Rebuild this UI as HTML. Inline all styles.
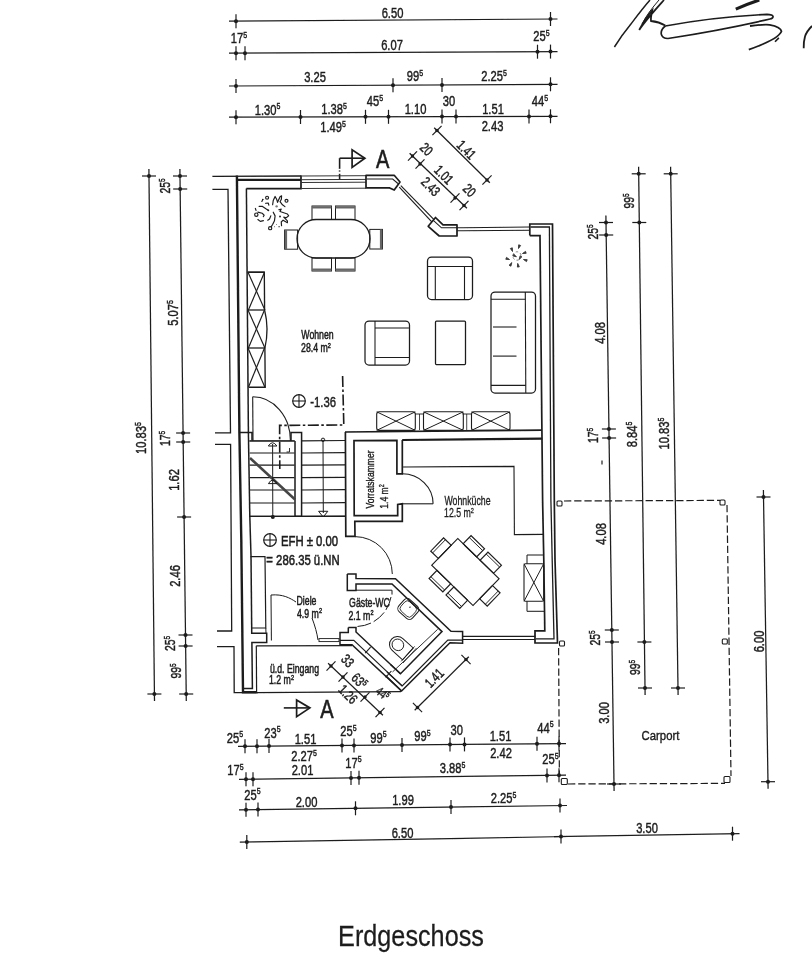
<!DOCTYPE html>
<html><head><meta charset="utf-8"><title>Erdgeschoss</title>
<style>
html,body{margin:0;padding:0;background:#fff;}
body{width:812px;height:960px;overflow:hidden;font-family:"Liberation Sans",sans-serif;}
svg{display:block;font-family:"Liberation Sans",sans-serif;}
</style></head><body>
<svg width="812" height="960" viewBox="0 0 812 960">
<rect width="812" height="960" fill="#ffffff"/>
<g filter="url(#soft)">
<line x1="229.0" y1="21.2" x2="557.5" y2="19.0" stroke="#1c1c1c" stroke-width="1.25"/>
<line x1="236.0" y1="14.2" x2="236.0" y2="28.2" stroke="#1c1c1c" stroke-width="1.2"/>
<circle cx="236.0" cy="21.2" r="2.0" fill="#1c1c1c"/>
<line x1="550.5" y1="12.0" x2="550.5" y2="26.0" stroke="#1c1c1c" stroke-width="1.2"/>
<circle cx="550.5" cy="19.0" r="2.0" fill="#1c1c1c"/>
<text transform="translate(392.5 18.0) rotate(0) scale(0.745 1)" text-anchor="middle" font-size="15" font-weight="normal" fill="#1c1c1c" stroke="#1c1c1c" stroke-width="0.45">6.50</text>
<line x1="229.0" y1="53.2" x2="557.5" y2="51.6" stroke="#1c1c1c" stroke-width="1.25"/>
<line x1="236.0" y1="46.2" x2="236.0" y2="60.2" stroke="#1c1c1c" stroke-width="1.2"/>
<circle cx="236.0" cy="53.2" r="2.0" fill="#1c1c1c"/>
<line x1="245.0" y1="46.2" x2="245.0" y2="60.2" stroke="#1c1c1c" stroke-width="1.2"/>
<circle cx="245.0" cy="53.2" r="2.0" fill="#1c1c1c"/>
<line x1="537.5" y1="44.7" x2="537.5" y2="58.7" stroke="#1c1c1c" stroke-width="1.2"/>
<circle cx="537.5" cy="51.7" r="2.0" fill="#1c1c1c"/>
<line x1="550.5" y1="44.6" x2="550.5" y2="58.6" stroke="#1c1c1c" stroke-width="1.2"/>
<circle cx="550.5" cy="51.6" r="2.0" fill="#1c1c1c"/>
<text transform="translate(239.0 43.0) rotate(0) scale(0.745 1)" text-anchor="middle" font-size="15" font-weight="normal" fill="#1c1c1c" stroke="#1c1c1c" stroke-width="0.45">17<tspan font-size="9.4" dy="-5.1">5</tspan></text>
<text transform="translate(392.0 50.0) rotate(0) scale(0.745 1)" text-anchor="middle" font-size="15" font-weight="normal" fill="#1c1c1c" stroke="#1c1c1c" stroke-width="0.45">6.07</text>
<text transform="translate(541.5 41.0) rotate(0) scale(0.745 1)" text-anchor="middle" font-size="15" font-weight="normal" fill="#1c1c1c" stroke="#1c1c1c" stroke-width="0.45">25<tspan font-size="9.4" dy="-5.1">5</tspan></text>
<line x1="229.0" y1="86.0" x2="557.5" y2="84.3" stroke="#1c1c1c" stroke-width="1.25"/>
<line x1="236.0" y1="79.0" x2="236.0" y2="93.0" stroke="#1c1c1c" stroke-width="1.2"/>
<circle cx="236.0" cy="86.0" r="2.0" fill="#1c1c1c"/>
<line x1="393.0" y1="78.2" x2="393.0" y2="92.2" stroke="#1c1c1c" stroke-width="1.2"/>
<circle cx="393.0" cy="85.2" r="2.0" fill="#1c1c1c"/>
<line x1="442.0" y1="77.9" x2="442.0" y2="91.9" stroke="#1c1c1c" stroke-width="1.2"/>
<circle cx="442.0" cy="84.9" r="2.0" fill="#1c1c1c"/>
<line x1="550.5" y1="77.3" x2="550.5" y2="91.3" stroke="#1c1c1c" stroke-width="1.2"/>
<circle cx="550.5" cy="84.3" r="2.0" fill="#1c1c1c"/>
<text transform="translate(315.0 82.0) rotate(0) scale(0.745 1)" text-anchor="middle" font-size="15" font-weight="normal" fill="#1c1c1c" stroke="#1c1c1c" stroke-width="0.45">3.25</text>
<text transform="translate(415.0 81.0) rotate(0) scale(0.745 1)" text-anchor="middle" font-size="15" font-weight="normal" fill="#1c1c1c" stroke="#1c1c1c" stroke-width="0.45">99<tspan font-size="9.4" dy="-5.1">5</tspan></text>
<text transform="translate(494.0 81.0) rotate(0) scale(0.745 1)" text-anchor="middle" font-size="15" font-weight="normal" fill="#1c1c1c" stroke="#1c1c1c" stroke-width="0.45">2.25<tspan font-size="9.4" dy="-5.1">5</tspan></text>
<line x1="229.0" y1="117.2" x2="557.5" y2="116.3" stroke="#1c1c1c" stroke-width="1.25"/>
<line x1="236.0" y1="110.2" x2="236.0" y2="124.2" stroke="#1c1c1c" stroke-width="1.2"/>
<circle cx="236.0" cy="117.2" r="2.0" fill="#1c1c1c"/>
<line x1="300.5" y1="110.0" x2="300.5" y2="124.0" stroke="#1c1c1c" stroke-width="1.2"/>
<circle cx="300.5" cy="117.0" r="2.0" fill="#1c1c1c"/>
<line x1="365.5" y1="109.8" x2="365.5" y2="123.8" stroke="#1c1c1c" stroke-width="1.2"/>
<circle cx="365.5" cy="116.8" r="2.0" fill="#1c1c1c"/>
<line x1="388.5" y1="109.8" x2="388.5" y2="123.8" stroke="#1c1c1c" stroke-width="1.2"/>
<circle cx="388.5" cy="116.8" r="2.0" fill="#1c1c1c"/>
<line x1="442.0" y1="109.6" x2="442.0" y2="123.6" stroke="#1c1c1c" stroke-width="1.2"/>
<circle cx="442.0" cy="116.6" r="2.0" fill="#1c1c1c"/>
<line x1="456.0" y1="109.6" x2="456.0" y2="123.6" stroke="#1c1c1c" stroke-width="1.2"/>
<circle cx="456.0" cy="116.6" r="2.0" fill="#1c1c1c"/>
<line x1="529.0" y1="109.4" x2="529.0" y2="123.4" stroke="#1c1c1c" stroke-width="1.2"/>
<circle cx="529.0" cy="116.4" r="2.0" fill="#1c1c1c"/>
<line x1="550.5" y1="109.3" x2="550.5" y2="123.3" stroke="#1c1c1c" stroke-width="1.2"/>
<circle cx="550.5" cy="116.3" r="2.0" fill="#1c1c1c"/>
<text transform="translate(267.5 114.5) rotate(0) scale(0.745 1)" text-anchor="middle" font-size="15" font-weight="normal" fill="#1c1c1c" stroke="#1c1c1c" stroke-width="0.45">1.30<tspan font-size="9.4" dy="-5.1">5</tspan></text>
<text transform="translate(334.0 114.0) rotate(0) scale(0.745 1)" text-anchor="middle" font-size="15" font-weight="normal" fill="#1c1c1c" stroke="#1c1c1c" stroke-width="0.45">1.38<tspan font-size="9.4" dy="-5.1">5</tspan></text>
<text transform="translate(375.0 106.0) rotate(0) scale(0.745 1)" text-anchor="middle" font-size="15" font-weight="normal" fill="#1c1c1c" stroke="#1c1c1c" stroke-width="0.45">45<tspan font-size="9.4" dy="-5.1">5</tspan></text>
<text transform="translate(415.5 114.0) rotate(0) scale(0.745 1)" text-anchor="middle" font-size="15" font-weight="normal" fill="#1c1c1c" stroke="#1c1c1c" stroke-width="0.45">1.10</text>
<text transform="translate(449.0 106.0) rotate(0) scale(0.745 1)" text-anchor="middle" font-size="15" font-weight="normal" fill="#1c1c1c" stroke="#1c1c1c" stroke-width="0.45">30</text>
<text transform="translate(493.0 114.0) rotate(0) scale(0.745 1)" text-anchor="middle" font-size="15" font-weight="normal" fill="#1c1c1c" stroke="#1c1c1c" stroke-width="0.45">1.51</text>
<text transform="translate(540.0 106.0) rotate(0) scale(0.745 1)" text-anchor="middle" font-size="15" font-weight="normal" fill="#1c1c1c" stroke="#1c1c1c" stroke-width="0.45">44<tspan font-size="9.4" dy="-5.1">5</tspan></text>
<text transform="translate(333.0 132.0) rotate(0) scale(0.745 1)" text-anchor="middle" font-size="15" font-weight="normal" fill="#1c1c1c" stroke="#1c1c1c" stroke-width="0.45">1.49<tspan font-size="9.4" dy="-5.1">5</tspan></text>
<text transform="translate(492.5 131.0) rotate(0) scale(0.745 1)" text-anchor="middle" font-size="15" font-weight="normal" fill="#1c1c1c" stroke="#1c1c1c" stroke-width="0.45">2.43</text>
<line x1="339.6" y1="158.2" x2="339.6" y2="168.8" stroke="#1c1c1c" stroke-width="1.6"/>
<line x1="339.6" y1="170.4" x2="339.6" y2="171.6" stroke="#1c1c1c" stroke-width="1.6"/>
<line x1="339.6" y1="173.8" x2="339.6" y2="179.6" stroke="#1c1c1c" stroke-width="1.6"/>
<line x1="339.6" y1="158.2" x2="364.5" y2="158.2" stroke="#1c1c1c" stroke-width="1.6"/>
<path d="M352.1 149.9 L352.1 167.4 L364.9 158.2 Z" fill="none" stroke="#1c1c1c" stroke-width="1.7" stroke-linejoin="miter"/>
<text transform="translate(382.6 168.1) rotate(0) scale(0.77 1)" text-anchor="middle" font-size="26" font-weight="normal" fill="#1c1c1c" stroke="#1c1c1c" stroke-width="0.6">A</text>
<line x1="434.2" y1="127.7" x2="489.8" y2="182.8" stroke="#1c1c1c" stroke-width="1.25"/>
<line x1="441.6" y1="125.9" x2="432.4" y2="135.1" stroke="#1c1c1c" stroke-width="1.2"/>
<circle cx="437.0" cy="130.5" r="1.7" fill="#1c1c1c"/>
<line x1="491.6" y1="175.4" x2="482.4" y2="184.6" stroke="#1c1c1c" stroke-width="1.2"/>
<circle cx="487.0" cy="180.0" r="1.7" fill="#1c1c1c"/>
<line x1="409.6" y1="153.2" x2="466.9" y2="208.3" stroke="#1c1c1c" stroke-width="1.25"/>
<line x1="417.0" y1="151.3" x2="408.0" y2="160.7" stroke="#1c1c1c" stroke-width="1.2"/>
<circle cx="412.5" cy="156.0" r="1.7" fill="#1c1c1c"/>
<line x1="424.5" y1="159.3" x2="415.5" y2="168.7" stroke="#1c1c1c" stroke-width="1.2"/>
<circle cx="420.0" cy="164.0" r="1.7" fill="#1c1c1c"/>
<line x1="459.5" y1="193.3" x2="450.5" y2="202.7" stroke="#1c1c1c" stroke-width="1.2"/>
<circle cx="455.0" cy="198.0" r="1.7" fill="#1c1c1c"/>
<line x1="468.5" y1="200.8" x2="459.5" y2="210.2" stroke="#1c1c1c" stroke-width="1.2"/>
<circle cx="464.0" cy="205.5" r="1.7" fill="#1c1c1c"/>
<text transform="translate(463.0 153.2) rotate(45) scale(0.745 1)" text-anchor="middle" font-size="14" font-weight="normal" fill="#1c1c1c" stroke="#1c1c1c" stroke-width="0.45">1.41</text>
<text transform="translate(423.0 152.5) rotate(45) scale(0.745 1)" text-anchor="middle" font-size="14" font-weight="normal" fill="#1c1c1c" stroke="#1c1c1c" stroke-width="0.45">20</text>
<text transform="translate(440.5 178.2) rotate(45) scale(0.745 1)" text-anchor="middle" font-size="14" font-weight="normal" fill="#1c1c1c" stroke="#1c1c1c" stroke-width="0.45">1.01</text>
<text transform="translate(427.3 190.0) rotate(45) scale(0.745 1)" text-anchor="middle" font-size="14" font-weight="normal" fill="#1c1c1c" stroke="#1c1c1c" stroke-width="0.45">2.43</text>
<text transform="translate(466.0 193.7) rotate(45) scale(0.745 1)" text-anchor="middle" font-size="14" font-weight="normal" fill="#1c1c1c" stroke="#1c1c1c" stroke-width="0.45">20</text>
<line x1="148.9" y1="169.0" x2="154.5" y2="701.0" stroke="#1c1c1c" stroke-width="1.25"/>
<line x1="142.0" y1="176.0" x2="156.0" y2="176.0" stroke="#1c1c1c" stroke-width="1.2"/>
<circle cx="149.0" cy="176.0" r="2.0" fill="#1c1c1c"/>
<line x1="147.4" y1="694.0" x2="161.4" y2="694.0" stroke="#1c1c1c" stroke-width="1.2"/>
<circle cx="154.4" cy="694.0" r="2.0" fill="#1c1c1c"/>
<line x1="179.9" y1="169.0" x2="186.3" y2="701.0" stroke="#1c1c1c" stroke-width="1.25"/>
<line x1="173.0" y1="176.0" x2="187.0" y2="176.0" stroke="#1c1c1c" stroke-width="1.2"/>
<circle cx="180.0" cy="176.0" r="2.0" fill="#1c1c1c"/>
<line x1="173.2" y1="189.0" x2="187.2" y2="189.0" stroke="#1c1c1c" stroke-width="1.2"/>
<circle cx="180.2" cy="189.0" r="2.0" fill="#1c1c1c"/>
<line x1="176.1" y1="433.0" x2="190.1" y2="433.0" stroke="#1c1c1c" stroke-width="1.2"/>
<circle cx="183.1" cy="433.0" r="2.0" fill="#1c1c1c"/>
<line x1="176.2" y1="442.0" x2="190.2" y2="442.0" stroke="#1c1c1c" stroke-width="1.2"/>
<circle cx="183.2" cy="442.0" r="2.0" fill="#1c1c1c"/>
<line x1="177.1" y1="517.0" x2="191.1" y2="517.0" stroke="#1c1c1c" stroke-width="1.2"/>
<circle cx="184.1" cy="517.0" r="2.0" fill="#1c1c1c"/>
<line x1="178.5" y1="635.0" x2="192.5" y2="635.0" stroke="#1c1c1c" stroke-width="1.2"/>
<circle cx="185.5" cy="635.0" r="2.0" fill="#1c1c1c"/>
<line x1="178.6" y1="646.0" x2="192.6" y2="646.0" stroke="#1c1c1c" stroke-width="1.2"/>
<circle cx="185.6" cy="646.0" r="2.0" fill="#1c1c1c"/>
<line x1="179.2" y1="694.0" x2="193.2" y2="694.0" stroke="#1c1c1c" stroke-width="1.2"/>
<circle cx="186.2" cy="694.0" r="2.0" fill="#1c1c1c"/>
<text transform="translate(170.2 186.0) rotate(-90) scale(0.745 1)" text-anchor="middle" font-size="14" font-weight="normal" fill="#1c1c1c" stroke="#1c1c1c" stroke-width="0.45">25<tspan font-size="8.8" dy="-4.8">5</tspan></text>
<text transform="translate(177.7 313.0) rotate(-90) scale(0.745 1)" text-anchor="middle" font-size="15" font-weight="normal" fill="#1c1c1c" stroke="#1c1c1c" stroke-width="0.45">5.07<tspan font-size="9.4" dy="-5.1">5</tspan></text>
<text transform="translate(146.2 438.0) rotate(-90) scale(0.745 1)" text-anchor="middle" font-size="15" font-weight="normal" fill="#1c1c1c" stroke="#1c1c1c" stroke-width="0.45">10.83<tspan font-size="9.4" dy="-5.1">5</tspan></text>
<text transform="translate(170.2 438.5) rotate(-90) scale(0.745 1)" text-anchor="middle" font-size="14" font-weight="normal" fill="#1c1c1c" stroke="#1c1c1c" stroke-width="0.45">17<tspan font-size="8.8" dy="-4.8">5</tspan></text>
<text transform="translate(179.2 480.0) rotate(-90) scale(0.745 1)" text-anchor="middle" font-size="15" font-weight="normal" fill="#1c1c1c" stroke="#1c1c1c" stroke-width="0.45">1.62</text>
<text transform="translate(179.7 576.0) rotate(-90) scale(0.745 1)" text-anchor="middle" font-size="15" font-weight="normal" fill="#1c1c1c" stroke="#1c1c1c" stroke-width="0.45">2.46</text>
<text transform="translate(174.7 643.5) rotate(-90) scale(0.745 1)" text-anchor="middle" font-size="14" font-weight="normal" fill="#1c1c1c" stroke="#1c1c1c" stroke-width="0.45">25<tspan font-size="8.8" dy="-4.8">5</tspan></text>
<text transform="translate(180.7 671.0) rotate(-90) scale(0.745 1)" text-anchor="middle" font-size="14" font-weight="normal" fill="#1c1c1c" stroke="#1c1c1c" stroke-width="0.45">99<tspan font-size="8.8" dy="-4.8">5</tspan></text>
<line x1="605.9" y1="215.5" x2="614.1" y2="791.0" stroke="#1c1c1c" stroke-width="1.25"/>
<line x1="599.0" y1="222.5" x2="613.0" y2="222.5" stroke="#1c1c1c" stroke-width="1.2"/>
<circle cx="606.0" cy="222.5" r="2.0" fill="#1c1c1c"/>
<line x1="599.2" y1="235.0" x2="613.2" y2="235.0" stroke="#1c1c1c" stroke-width="1.2"/>
<circle cx="606.2" cy="235.0" r="2.0" fill="#1c1c1c"/>
<line x1="601.9" y1="429.0" x2="615.9" y2="429.0" stroke="#1c1c1c" stroke-width="1.2"/>
<circle cx="608.9" cy="429.0" r="2.0" fill="#1c1c1c"/>
<line x1="602.1" y1="438.0" x2="616.1" y2="438.0" stroke="#1c1c1c" stroke-width="1.2"/>
<circle cx="609.1" cy="438.0" r="2.0" fill="#1c1c1c"/>
<line x1="604.8" y1="630.0" x2="618.8" y2="630.0" stroke="#1c1c1c" stroke-width="1.2"/>
<circle cx="611.8" cy="630.0" r="2.0" fill="#1c1c1c"/>
<line x1="605.0" y1="642.0" x2="619.0" y2="642.0" stroke="#1c1c1c" stroke-width="1.2"/>
<circle cx="612.0" cy="642.0" r="2.0" fill="#1c1c1c"/>
<line x1="607.0" y1="784.0" x2="621.0" y2="784.0" stroke="#1c1c1c" stroke-width="1.2"/>
<circle cx="614.0" cy="784.0" r="2.0" fill="#1c1c1c"/>
<line x1="638.6" y1="166.8" x2="645.1" y2="695.0" stroke="#1c1c1c" stroke-width="1.25"/>
<line x1="631.7" y1="173.8" x2="645.7" y2="173.8" stroke="#1c1c1c" stroke-width="1.2"/>
<circle cx="638.7" cy="173.8" r="2.0" fill="#1c1c1c"/>
<line x1="632.3" y1="222.5" x2="646.3" y2="222.5" stroke="#1c1c1c" stroke-width="1.2"/>
<circle cx="639.3" cy="222.5" r="2.0" fill="#1c1c1c"/>
<line x1="637.4" y1="642.0" x2="651.4" y2="642.0" stroke="#1c1c1c" stroke-width="1.2"/>
<circle cx="644.4" cy="642.0" r="2.0" fill="#1c1c1c"/>
<line x1="638.0" y1="688.0" x2="652.0" y2="688.0" stroke="#1c1c1c" stroke-width="1.2"/>
<circle cx="645.0" cy="688.0" r="2.0" fill="#1c1c1c"/>
<line x1="670.6" y1="166.8" x2="678.1" y2="695.0" stroke="#1c1c1c" stroke-width="1.25"/>
<line x1="663.7" y1="173.8" x2="677.7" y2="173.8" stroke="#1c1c1c" stroke-width="1.2"/>
<circle cx="670.7" cy="173.8" r="2.0" fill="#1c1c1c"/>
<line x1="671.0" y1="688.0" x2="685.0" y2="688.0" stroke="#1c1c1c" stroke-width="1.2"/>
<circle cx="678.0" cy="688.0" r="2.0" fill="#1c1c1c"/>
<text transform="translate(633.7 201.0) rotate(-90) scale(0.745 1)" text-anchor="middle" font-size="14" font-weight="normal" fill="#1c1c1c" stroke="#1c1c1c" stroke-width="0.45">99<tspan font-size="8.8" dy="-4.8">5</tspan></text>
<text transform="translate(597.7 232.0) rotate(-90) scale(0.745 1)" text-anchor="middle" font-size="14" font-weight="normal" fill="#1c1c1c" stroke="#1c1c1c" stroke-width="0.45">25<tspan font-size="8.8" dy="-4.8">5</tspan></text>
<text transform="translate(605.2 333.0) rotate(-90) scale(0.745 1)" text-anchor="middle" font-size="15" font-weight="normal" fill="#1c1c1c" stroke="#1c1c1c" stroke-width="0.45">4.08</text>
<text transform="translate(597.7 435.5) rotate(-90) scale(0.745 1)" text-anchor="middle" font-size="14" font-weight="normal" fill="#1c1c1c" stroke="#1c1c1c" stroke-width="0.45">17<tspan font-size="8.8" dy="-4.8">5</tspan></text>
<text transform="translate(637.2 434.5) rotate(-90) scale(0.745 1)" text-anchor="middle" font-size="15" font-weight="normal" fill="#1c1c1c" stroke="#1c1c1c" stroke-width="0.45">8.84<tspan font-size="9.4" dy="-5.1">5</tspan></text>
<text transform="translate(669.2 433.5) rotate(-90) scale(0.745 1)" text-anchor="middle" font-size="15" font-weight="normal" fill="#1c1c1c" stroke="#1c1c1c" stroke-width="0.45">10.83<tspan font-size="9.4" dy="-5.1">5</tspan></text>
<line x1="602.0" y1="460.5" x2="602.0" y2="464.5" stroke="#1c1c1c" stroke-width="1.2"/>
<text transform="translate(606.2 534.0) rotate(-90) scale(0.745 1)" text-anchor="middle" font-size="15" font-weight="normal" fill="#1c1c1c" stroke="#1c1c1c" stroke-width="0.45">4.08</text>
<text transform="translate(599.7 638.0) rotate(-90) scale(0.745 1)" text-anchor="middle" font-size="14" font-weight="normal" fill="#1c1c1c" stroke="#1c1c1c" stroke-width="0.45">25<tspan font-size="8.8" dy="-4.8">5</tspan></text>
<text transform="translate(639.7 667.5) rotate(-90) scale(0.745 1)" text-anchor="middle" font-size="14" font-weight="normal" fill="#1c1c1c" stroke="#1c1c1c" stroke-width="0.45">99<tspan font-size="8.8" dy="-4.8">5</tspan></text>
<text transform="translate(608.7 713.0) rotate(-90) scale(0.745 1)" text-anchor="middle" font-size="15" font-weight="normal" fill="#1c1c1c" stroke="#1c1c1c" stroke-width="0.45">3.00</text>
<line x1="763.4" y1="490.0" x2="768.1" y2="788.7" stroke="#1c1c1c" stroke-width="1.25"/>
<line x1="756.5" y1="497.0" x2="770.5" y2="497.0" stroke="#1c1c1c" stroke-width="1.2"/>
<circle cx="763.5" cy="497.0" r="2.0" fill="#1c1c1c"/>
<line x1="761.0" y1="781.7" x2="775.0" y2="781.7" stroke="#1c1c1c" stroke-width="1.2"/>
<circle cx="768.0" cy="781.7" r="2.0" fill="#1c1c1c"/>
<text transform="translate(763.7 641.5) rotate(-90) scale(0.745 1)" text-anchor="middle" font-size="15" font-weight="normal" fill="#1c1c1c" stroke="#1c1c1c" stroke-width="0.45">6.00</text>
<text transform="translate(660.5 740.0) rotate(0) scale(0.84 1)" text-anchor="middle" font-size="13.5" font-weight="normal" fill="#1c1c1c" stroke="#1c1c1c" stroke-width="0.4">Carport</text>
<line x1="238.0" y1="746.4" x2="566.0" y2="743.5" stroke="#1c1c1c" stroke-width="1.25"/>
<line x1="245.0" y1="739.3" x2="245.0" y2="753.3" stroke="#1c1c1c" stroke-width="1.2"/>
<circle cx="245.0" cy="746.3" r="2.0" fill="#1c1c1c"/>
<line x1="257.0" y1="739.2" x2="257.0" y2="753.2" stroke="#1c1c1c" stroke-width="1.2"/>
<circle cx="257.0" cy="746.2" r="2.0" fill="#1c1c1c"/>
<line x1="269.0" y1="739.1" x2="269.0" y2="753.1" stroke="#1c1c1c" stroke-width="1.2"/>
<circle cx="269.0" cy="746.1" r="2.0" fill="#1c1c1c"/>
<line x1="342.0" y1="738.5" x2="342.0" y2="752.5" stroke="#1c1c1c" stroke-width="1.2"/>
<circle cx="342.0" cy="745.5" r="2.0" fill="#1c1c1c"/>
<line x1="354.0" y1="738.4" x2="354.0" y2="752.4" stroke="#1c1c1c" stroke-width="1.2"/>
<circle cx="354.0" cy="745.4" r="2.0" fill="#1c1c1c"/>
<line x1="402.0" y1="738.0" x2="402.0" y2="752.0" stroke="#1c1c1c" stroke-width="1.2"/>
<circle cx="402.0" cy="745.0" r="2.0" fill="#1c1c1c"/>
<line x1="450.0" y1="737.5" x2="450.0" y2="751.5" stroke="#1c1c1c" stroke-width="1.2"/>
<circle cx="450.0" cy="744.5" r="2.0" fill="#1c1c1c"/>
<line x1="464.5" y1="737.4" x2="464.5" y2="751.4" stroke="#1c1c1c" stroke-width="1.2"/>
<circle cx="464.5" cy="744.4" r="2.0" fill="#1c1c1c"/>
<line x1="537.0" y1="736.8" x2="537.0" y2="750.8" stroke="#1c1c1c" stroke-width="1.2"/>
<circle cx="537.0" cy="743.8" r="2.0" fill="#1c1c1c"/>
<line x1="559.0" y1="736.6" x2="559.0" y2="750.6" stroke="#1c1c1c" stroke-width="1.2"/>
<circle cx="559.0" cy="743.6" r="2.0" fill="#1c1c1c"/>
<text transform="translate(235.0 742.5) rotate(0) scale(0.745 1)" text-anchor="middle" font-size="15" font-weight="normal" fill="#1c1c1c" stroke="#1c1c1c" stroke-width="0.45">25<tspan font-size="9.4" dy="-5.1">5</tspan></text>
<text transform="translate(272.5 737.5) rotate(0) scale(0.745 1)" text-anchor="middle" font-size="15" font-weight="normal" fill="#1c1c1c" stroke="#1c1c1c" stroke-width="0.45">23<tspan font-size="9.4" dy="-5.1">5</tspan></text>
<text transform="translate(305.5 744.0) rotate(0) scale(0.745 1)" text-anchor="middle" font-size="15" font-weight="normal" fill="#1c1c1c" stroke="#1c1c1c" stroke-width="0.45">1.51</text>
<text transform="translate(348.5 736.0) rotate(0) scale(0.745 1)" text-anchor="middle" font-size="15" font-weight="normal" fill="#1c1c1c" stroke="#1c1c1c" stroke-width="0.45">25<tspan font-size="9.4" dy="-5.1">5</tspan></text>
<text transform="translate(378.5 742.5) rotate(0) scale(0.745 1)" text-anchor="middle" font-size="15" font-weight="normal" fill="#1c1c1c" stroke="#1c1c1c" stroke-width="0.45">99<tspan font-size="9.4" dy="-5.1">5</tspan></text>
<text transform="translate(422.5 741.0) rotate(0) scale(0.745 1)" text-anchor="middle" font-size="15" font-weight="normal" fill="#1c1c1c" stroke="#1c1c1c" stroke-width="0.45">99<tspan font-size="9.4" dy="-5.1">5</tspan></text>
<text transform="translate(456.7 734.5) rotate(0) scale(0.745 1)" text-anchor="middle" font-size="15" font-weight="normal" fill="#1c1c1c" stroke="#1c1c1c" stroke-width="0.45">30</text>
<text transform="translate(500.5 741.0) rotate(0) scale(0.745 1)" text-anchor="middle" font-size="15" font-weight="normal" fill="#1c1c1c" stroke="#1c1c1c" stroke-width="0.45">1.51</text>
<text transform="translate(545.5 732.5) rotate(0) scale(0.745 1)" text-anchor="middle" font-size="15" font-weight="normal" fill="#1c1c1c" stroke="#1c1c1c" stroke-width="0.45">44<tspan font-size="9.4" dy="-5.1">5</tspan></text>
<text transform="translate(304.0 761.0) rotate(0) scale(0.745 1)" text-anchor="middle" font-size="15" font-weight="normal" fill="#1c1c1c" stroke="#1c1c1c" stroke-width="0.45">2.27<tspan font-size="9.4" dy="-5.1">5</tspan></text>
<text transform="translate(501.0 758.0) rotate(0) scale(0.745 1)" text-anchor="middle" font-size="15" font-weight="normal" fill="#1c1c1c" stroke="#1c1c1c" stroke-width="0.45">2.42</text>
<line x1="239.0" y1="779.4" x2="566.0" y2="775.1" stroke="#1c1c1c" stroke-width="1.25"/>
<line x1="246.0" y1="772.3" x2="246.0" y2="786.3" stroke="#1c1c1c" stroke-width="1.2"/>
<circle cx="246.0" cy="779.3" r="2.0" fill="#1c1c1c"/>
<line x1="253.0" y1="772.2" x2="253.0" y2="786.2" stroke="#1c1c1c" stroke-width="1.2"/>
<circle cx="253.0" cy="779.2" r="2.0" fill="#1c1c1c"/>
<line x1="351.0" y1="770.9" x2="351.0" y2="784.9" stroke="#1c1c1c" stroke-width="1.2"/>
<circle cx="351.0" cy="777.9" r="2.0" fill="#1c1c1c"/>
<line x1="359.0" y1="770.8" x2="359.0" y2="784.8" stroke="#1c1c1c" stroke-width="1.2"/>
<circle cx="359.0" cy="777.8" r="2.0" fill="#1c1c1c"/>
<line x1="547.0" y1="768.4" x2="547.0" y2="782.4" stroke="#1c1c1c" stroke-width="1.2"/>
<circle cx="547.0" cy="775.4" r="2.0" fill="#1c1c1c"/>
<line x1="559.0" y1="768.2" x2="559.0" y2="782.2" stroke="#1c1c1c" stroke-width="1.2"/>
<circle cx="559.0" cy="775.2" r="2.0" fill="#1c1c1c"/>
<text transform="translate(235.5 775.0) rotate(0) scale(0.745 1)" text-anchor="middle" font-size="15" font-weight="normal" fill="#1c1c1c" stroke="#1c1c1c" stroke-width="0.45">17<tspan font-size="9.4" dy="-5.1">5</tspan></text>
<text transform="translate(302.5 775.0) rotate(0) scale(0.745 1)" text-anchor="middle" font-size="15" font-weight="normal" fill="#1c1c1c" stroke="#1c1c1c" stroke-width="0.45">2.01</text>
<text transform="translate(353.5 767.5) rotate(0) scale(0.745 1)" text-anchor="middle" font-size="15" font-weight="normal" fill="#1c1c1c" stroke="#1c1c1c" stroke-width="0.45">17<tspan font-size="9.4" dy="-5.1">5</tspan></text>
<text transform="translate(452.5 773.0) rotate(0) scale(0.745 1)" text-anchor="middle" font-size="15" font-weight="normal" fill="#1c1c1c" stroke="#1c1c1c" stroke-width="0.45">3.88<tspan font-size="9.4" dy="-5.1">5</tspan></text>
<text transform="translate(550.5 764.0) rotate(0) scale(0.745 1)" text-anchor="middle" font-size="15" font-weight="normal" fill="#1c1c1c" stroke="#1c1c1c" stroke-width="0.45">25<tspan font-size="9.4" dy="-5.1">5</tspan></text>
<line x1="239.0" y1="809.9" x2="567.0" y2="805.5" stroke="#1c1c1c" stroke-width="1.25"/>
<line x1="246.0" y1="802.8" x2="246.0" y2="816.8" stroke="#1c1c1c" stroke-width="1.2"/>
<circle cx="246.0" cy="809.8" r="2.0" fill="#1c1c1c"/>
<line x1="258.0" y1="802.6" x2="258.0" y2="816.6" stroke="#1c1c1c" stroke-width="1.2"/>
<circle cx="258.0" cy="809.6" r="2.0" fill="#1c1c1c"/>
<line x1="355.5" y1="801.3" x2="355.5" y2="815.3" stroke="#1c1c1c" stroke-width="1.2"/>
<circle cx="355.5" cy="808.3" r="2.0" fill="#1c1c1c"/>
<line x1="451.0" y1="800.1" x2="451.0" y2="814.1" stroke="#1c1c1c" stroke-width="1.2"/>
<circle cx="451.0" cy="807.1" r="2.0" fill="#1c1c1c"/>
<line x1="560.0" y1="798.6" x2="560.0" y2="812.6" stroke="#1c1c1c" stroke-width="1.2"/>
<circle cx="560.0" cy="805.6" r="2.0" fill="#1c1c1c"/>
<text transform="translate(252.5 799.5) rotate(0) scale(0.745 1)" text-anchor="middle" font-size="15" font-weight="normal" fill="#1c1c1c" stroke="#1c1c1c" stroke-width="0.45">25<tspan font-size="9.4" dy="-5.1">5</tspan></text>
<text transform="translate(306.5 807.0) rotate(0) scale(0.745 1)" text-anchor="middle" font-size="15" font-weight="normal" fill="#1c1c1c" stroke="#1c1c1c" stroke-width="0.45">2.00</text>
<text transform="translate(403.0 805.0) rotate(0) scale(0.745 1)" text-anchor="middle" font-size="15" font-weight="normal" fill="#1c1c1c" stroke="#1c1c1c" stroke-width="0.45">1.99</text>
<text transform="translate(503.5 803.0) rotate(0) scale(0.745 1)" text-anchor="middle" font-size="15" font-weight="normal" fill="#1c1c1c" stroke="#1c1c1c" stroke-width="0.45">2.25<tspan font-size="9.4" dy="-5.1">5</tspan></text>
<line x1="239.8" y1="842.1" x2="568.0" y2="836.5" stroke="#1c1c1c" stroke-width="1.25"/>
<line x1="246.8" y1="835.0" x2="246.8" y2="849.0" stroke="#1c1c1c" stroke-width="1.2"/>
<circle cx="246.8" cy="842.0" r="2.0" fill="#1c1c1c"/>
<line x1="561.0" y1="829.6" x2="561.0" y2="843.6" stroke="#1c1c1c" stroke-width="1.2"/>
<circle cx="561.0" cy="836.6" r="2.0" fill="#1c1c1c"/>
<text transform="translate(402.5 838.0) rotate(0) scale(0.745 1)" text-anchor="middle" font-size="15" font-weight="normal" fill="#1c1c1c" stroke="#1c1c1c" stroke-width="0.45">6.50</text>
<line x1="554.0" y1="836.7" x2="739.5" y2="833.6" stroke="#1c1c1c" stroke-width="1.25"/>
<line x1="732.5" y1="826.7" x2="732.5" y2="840.7" stroke="#1c1c1c" stroke-width="1.2"/>
<circle cx="732.5" cy="833.7" r="2.0" fill="#1c1c1c"/>
<text transform="translate(647.0 833.0) rotate(0) scale(0.745 1)" text-anchor="middle" font-size="15" font-weight="normal" fill="#1c1c1c" stroke="#1c1c1c" stroke-width="0.45">3.50</text>
<line x1="283.8" y1="707.9" x2="309.4" y2="707.9" stroke="#1c1c1c" stroke-width="1.6"/>
<path d="M296.6 699.9 L296.6 716.6 L309.9 707.9 Z" fill="none" stroke="#1c1c1c" stroke-width="1.7" stroke-linejoin="miter"/>
<text transform="translate(326.9 717.6) rotate(0) scale(0.77 1)" text-anchor="middle" font-size="26" font-weight="normal" fill="#1c1c1c" stroke="#1c1c1c" stroke-width="0.6">A</text>
<line x1="328.1" y1="663.2" x2="382.9" y2="715.3" stroke="#1c1c1c" stroke-width="1.25"/>
<line x1="335.5" y1="661.3" x2="326.5" y2="670.7" stroke="#1c1c1c" stroke-width="1.2"/>
<circle cx="331.0" cy="666.0" r="1.7" fill="#1c1c1c"/>
<line x1="347.5" y1="672.3" x2="338.5" y2="681.7" stroke="#1c1c1c" stroke-width="1.2"/>
<circle cx="343.0" cy="677.0" r="1.7" fill="#1c1c1c"/>
<line x1="369.5" y1="692.3" x2="360.5" y2="701.7" stroke="#1c1c1c" stroke-width="1.2"/>
<circle cx="365.0" cy="697.0" r="1.7" fill="#1c1c1c"/>
<line x1="384.5" y1="707.8" x2="375.5" y2="717.2" stroke="#1c1c1c" stroke-width="1.2"/>
<circle cx="380.0" cy="712.5" r="1.7" fill="#1c1c1c"/>
<text transform="translate(344.3 664.2) rotate(45) scale(0.745 1)" text-anchor="middle" font-size="14" font-weight="normal" fill="#1c1c1c" stroke="#1c1c1c" stroke-width="0.45">33</text>
<text transform="translate(355.8 684.2) rotate(45) scale(0.745 1)" text-anchor="middle" font-size="14" font-weight="normal" fill="#1c1c1c" stroke="#1c1c1c" stroke-width="0.45">63<tspan font-size="8.8" dy="-4.8">5</tspan></text>
<text transform="translate(380.0 697.0) rotate(38) scale(0.745 1)" text-anchor="middle" font-size="12.5" font-weight="normal" fill="#1c1c1c" stroke="#1c1c1c" stroke-width="0.45">44<tspan font-size="7.9" dy="-4.2">5</tspan></text>
<text transform="translate(344.6 697.7) rotate(45) scale(0.745 1)" text-anchor="middle" font-size="14" font-weight="normal" fill="#1c1c1c" stroke="#1c1c1c" stroke-width="0.45">1.26</text>
<line x1="468.8" y1="656.7" x2="414.7" y2="710.3" stroke="#1c1c1c" stroke-width="1.25"/>
<line x1="470.6" y1="664.1" x2="461.4" y2="654.9" stroke="#1c1c1c" stroke-width="1.2"/>
<circle cx="466.0" cy="659.5" r="1.7" fill="#1c1c1c"/>
<line x1="422.1" y1="712.1" x2="412.9" y2="702.9" stroke="#1c1c1c" stroke-width="1.2"/>
<circle cx="417.5" cy="707.5" r="1.7" fill="#1c1c1c"/>
<text transform="translate(437.6 681.4) rotate(-45) scale(0.745 1)" text-anchor="middle" font-size="14" font-weight="normal" fill="#1c1c1c" stroke="#1c1c1c" stroke-width="0.45">1.41</text>
<text transform="translate(411.0 946.4) rotate(0) scale(0.855 1)" text-anchor="middle" font-size="29.5" font-weight="normal" fill="#1c1c1c" stroke="#1c1c1c" stroke-width="0.25">Erdgeschoss</text>
<line x1="212.4" y1="176.4" x2="301.0" y2="176.0" stroke="#1c1c1c" stroke-width="1.3"/>
<path d="M212.4 189.4 L228.0 189.4 L230.5 432.8 L215.0 432.8" fill="none" stroke="#1c1c1c" stroke-width="1.3" stroke-linejoin="miter"/>
<path d="M215.0 444.3 L230.6 444.3 L231.7 631.0 L217.0 631.0" fill="none" stroke="#1c1c1c" stroke-width="1.3" stroke-linejoin="miter"/>
<path d="M217.0 646.7 L234.0 646.7 L234.2 692.6 L258.0 692.6" fill="none" stroke="#1c1c1c" stroke-width="1.3" stroke-linejoin="miter"/>
<path d="M301.0 179.8 L236.9 179.8" fill="none" stroke="#1c1c1c" stroke-width="2.2" stroke-linejoin="miter"/>
<path d="M236.9 175.6 L239.4 433.0 L241.3 540.0 L243.0 692.3 L256.6 692.3" fill="none" stroke="#1c1c1c" stroke-width="2.4" stroke-linejoin="miter"/>
<path d="M301.0 175.6 L301.0 188.6 L246.4 188.6" fill="none" stroke="#1c1c1c" stroke-width="1.7" stroke-linejoin="miter"/>
<line x1="246.4" y1="188.6" x2="248.4" y2="433.0" stroke="#1c1c1c" stroke-width="1.5"/>
<line x1="301.0" y1="176.0" x2="366.0" y2="175.7" stroke="#333" stroke-width="1.0"/>
<line x1="301.0" y1="179.7" x2="366.0" y2="179.4" stroke="#333" stroke-width="1.0"/>
<line x1="301.0" y1="182.5" x2="366.0" y2="182.2" stroke="#333" stroke-width="1.0"/>
<line x1="301.0" y1="188.5" x2="366.0" y2="188.2" stroke="#333" stroke-width="1.0"/>
<path d="M366.0 175.3 L394.2 175.3 L400.0 182.0 L394.2 190.1 L389.7 187.9 L366.0 187.9 Z" fill="none" stroke="#1c1c1c" stroke-width="1.7" stroke-linejoin="round"/>
<path d="M366.8 179.0 L392.7 179.0 L397.9 183.5" fill="none" stroke="#1c1c1c" stroke-width="1.1" stroke-linejoin="miter"/>
<line x1="400.8" y1="185.7" x2="434.0" y2="219.7" stroke="#1c1c1c" stroke-width="1.15"/>
<line x1="399.3" y1="187.2" x2="431.8" y2="221.9" stroke="#1c1c1c" stroke-width="1.15"/>
<path d="M435.5 217.5 L443.0 224.8 L457.0 224.8 L457.0 236.0 L439.2 236.0 L428.2 226.3 Z" fill="none" stroke="#1c1c1c" stroke-width="1.7" stroke-linejoin="round"/>
<path d="M433.3 220.4 L441.5 227.8 L457.0 227.8" fill="none" stroke="#1c1c1c" stroke-width="1.1" stroke-linejoin="miter"/>
<line x1="457.0" y1="227.8" x2="530.0" y2="227.0" stroke="#1c1c1c" stroke-width="1.15"/>
<line x1="457.0" y1="230.8" x2="530.0" y2="230.2" stroke="#1c1c1c" stroke-width="1.15"/>
<path d="M529.8 235.6 L529.8 224.0 L552.5 224.0 L554.3 500.0 L555.0 560.0 L557.5 643.0 L535.0 643.0 L535.0 630.8 L544.8 630.8 L543.8 560.0 L542.6 500.0 L540.0 235.6 L529.8 235.6" fill="none" stroke="#1c1c1c" stroke-width="1.7" stroke-linejoin="miter"/>
<path d="M530.5 227.0 L549.4 227.0 L550.9 500.0 L552.2 560.0 L554.0 638.8 L536.0 638.8" fill="none" stroke="#1c1c1c" stroke-width="1.3" stroke-linejoin="miter"/>
<line x1="345.0" y1="432.0" x2="542.0" y2="430.2" stroke="#1c1c1c" stroke-width="1.7"/>
<line x1="402.2" y1="440.0" x2="542.2" y2="438.6" stroke="#1c1c1c" stroke-width="2.1"/>
<path d="M345.4 432.0 L345.8 536.3 L355.0 536.3 L354.8 521.3 L402.3 521.3 L402.3 503.8 L397.7 504.4 L397.7 515.7 L354.2 515.7 L354.0 440.6 L396.9 440.4 L396.9 473.8 L402.3 473.8 L402.3 440.0" fill="none" stroke="#1c1c1c" stroke-width="1.7" stroke-linejoin="miter"/>
<text transform="translate(373.5 479.5) rotate(-90) scale(0.74 1)" text-anchor="middle" font-size="11.6" font-weight="normal" fill="#1c1c1c" stroke="#1c1c1c" stroke-width="0.35">Vorratskammer</text>
<text transform="translate(387.5 496.5) rotate(-90) scale(0.74 1)" text-anchor="middle" font-size="11.6" font-weight="normal" fill="#1c1c1c" stroke="#1c1c1c" stroke-width="0.35">1.4 m<tspan font-size="7.3" dy="-3.9">2</tspan></text>
<line x1="402.3" y1="503.8" x2="433.1" y2="503.8" stroke="#1c1c1c" stroke-width="1.1"/>
<path d="M402.3 473.8 A30.8 30 0 0 1 433.1 503.8" fill="none" stroke="#1c1c1c" stroke-width="1.1" />
<line x1="249.6" y1="440.8" x2="294.5" y2="440.8" stroke="#1c1c1c" stroke-width="1.2"/>
<line x1="301.6" y1="440.8" x2="345.0" y2="440.5" stroke="#1c1c1c" stroke-width="1.2"/>
<line x1="249.6" y1="453.0" x2="294.5" y2="453.0" stroke="#1c1c1c" stroke-width="1.2"/>
<line x1="301.6" y1="453.0" x2="345.0" y2="452.7" stroke="#1c1c1c" stroke-width="1.2"/>
<line x1="249.6" y1="465.2" x2="294.5" y2="465.2" stroke="#1c1c1c" stroke-width="1.2"/>
<line x1="301.6" y1="465.2" x2="345.0" y2="464.9" stroke="#1c1c1c" stroke-width="1.2"/>
<line x1="249.6" y1="477.6" x2="294.5" y2="477.6" stroke="#1c1c1c" stroke-width="1.2"/>
<line x1="301.6" y1="477.6" x2="345.0" y2="477.3" stroke="#1c1c1c" stroke-width="1.2"/>
<line x1="249.6" y1="490.0" x2="294.5" y2="490.0" stroke="#1c1c1c" stroke-width="1.2"/>
<line x1="301.6" y1="490.0" x2="345.0" y2="489.7" stroke="#1c1c1c" stroke-width="1.2"/>
<line x1="249.6" y1="503.0" x2="294.5" y2="503.0" stroke="#1c1c1c" stroke-width="1.2"/>
<line x1="301.6" y1="503.0" x2="345.0" y2="502.7" stroke="#1c1c1c" stroke-width="1.2"/>
<line x1="249.6" y1="516.3" x2="294.5" y2="516.3" stroke="#1c1c1c" stroke-width="1.2"/>
<line x1="301.6" y1="516.3" x2="345.0" y2="516.0" stroke="#1c1c1c" stroke-width="1.2"/>
<line x1="249.5" y1="516.3" x2="345.0" y2="516.3" stroke="#1c1c1c" stroke-width="1.2"/>
<path d="M291.0 441.0 L291.0 432.6 L301.6 432.6 L301.6 516.3 L295.0 516.3 L295.0 441.0" fill="none" stroke="#1c1c1c" stroke-width="1.5" stroke-linejoin="miter"/>
<line x1="249.3" y1="441.0" x2="295.0" y2="441.0" stroke="#1c1c1c" stroke-width="1.2"/>
<path d="M239.4 432.4 L252.0 432.4 L252.0 440.6" fill="none" stroke="#1c1c1c" stroke-width="1.5" stroke-linejoin="miter"/>
<line x1="248.4" y1="433.0" x2="249.8" y2="516.0" stroke="#1c1c1c" stroke-width="1.5"/>
<line x1="249.8" y1="516.0" x2="251.0" y2="556.0" stroke="#1c1c1c" stroke-width="1.5"/>
<line x1="250.0" y1="458.0" x2="295.0" y2="499.5" stroke="#444" stroke-width="2.5"/>
<line x1="272.6" y1="444.0" x2="272.8" y2="517.0" stroke="#1c1c1c" stroke-width="1.0"/>
<circle cx="272.8" cy="517.0" r="2.0" fill="#1c1c1c"/>
<path d="M268.3 446 Q272.5 439.5 276.9 446 Z" fill="none" stroke="#1c1c1c" stroke-width="1.0" />
<path d="M268.4 483.6 Q272.7 476.5 277 483.6 Z" fill="none" stroke="#1c1c1c" stroke-width="1.0" />
<line x1="323.0" y1="439.8" x2="323.3" y2="513.0" stroke="#1c1c1c" stroke-width="1.0"/>
<circle cx="323.0" cy="439.8" r="1.7" fill="none" stroke="#1c1c1c" stroke-width="1.0"/>
<path d="M318.6 511.3 L327.8 511.3 L323.2 517 Z" fill="none" stroke="#1c1c1c" stroke-width="1.0" />
<line x1="252.7" y1="396.8" x2="253.0" y2="440.4" stroke="#1c1c1c" stroke-width="1.1"/>
<path d="M252.7 396.8 A37.7 43.6 0 0 1 290.4 440.4" fill="none" stroke="#1c1c1c" stroke-width="1.1" />
<path d="M342.6 376.0 L343.8 425.0 L279.6 425.4 L279.8 469.0" fill="none" stroke="#1c1c1c" stroke-width="1.6" stroke-linejoin="miter" stroke-dasharray="11 2.5 2.5 2.5"/>
<path d="M289.5 448.0 L289.5 452.0 L286.5 452.0" fill="none" stroke="#1c1c1c" stroke-width="0.9" stroke-linejoin="miter"/>
<circle cx="299.0" cy="401.0" r="6.3" fill="none" stroke="#1c1c1c" stroke-width="1.2"/>
<line x1="292.7" y1="401.0" x2="305.3" y2="401.0" stroke="#1c1c1c" stroke-width="1.1"/>
<line x1="299.0" y1="394.7" x2="299.0" y2="407.3" stroke="#1c1c1c" stroke-width="1.1"/>
<text transform="translate(323.2 407.2) rotate(0) scale(0.755 1)" text-anchor="middle" font-size="15" font-weight="normal" fill="#1c1c1c" stroke="#1c1c1c" stroke-width="0.45">-1.36</text>
<circle cx="270.0" cy="540.0" r="6.3" fill="none" stroke="#1c1c1c" stroke-width="1.2"/>
<line x1="263.7" y1="540.0" x2="276.3" y2="540.0" stroke="#1c1c1c" stroke-width="1.1"/>
<line x1="270.0" y1="533.7" x2="270.0" y2="546.3" stroke="#1c1c1c" stroke-width="1.1"/>
<text transform="translate(309.5 546.0) rotate(0) scale(0.755 1)" text-anchor="middle" font-size="15" font-weight="normal" fill="#1c1c1c" stroke="#1c1c1c" stroke-width="0.55">EFH ± 0.00</text>
<text transform="translate(303.0 564.5) rotate(0) scale(0.755 1)" text-anchor="middle" font-size="15" font-weight="normal" fill="#1c1c1c" stroke="#1c1c1c" stroke-width="0.55">= 286.35 ü.NN</text>
<path d="M250.5 556.7 L265.0 556.7 L265.8 628.0 L251.7 628.0" fill="none" stroke="#1c1c1c" stroke-width="1.2" stroke-linejoin="miter"/>
<line x1="251.0" y1="556.0" x2="251.7" y2="628.0" stroke="#1c1c1c" stroke-width="1.5"/>
<path d="M251.7 628.0 L251.7 633.3 L266.7 633.3 L266.7 642.5 L251.9 642.5 L252.4 688.4 L243.3 688.6" fill="none" stroke="#1c1c1c" stroke-width="1.5" stroke-linejoin="miter"/>
<line x1="265.8" y1="628.0" x2="266.0" y2="633.3" stroke="#1c1c1c" stroke-width="1.0"/>
<line x1="256.3" y1="645.8" x2="256.6" y2="692.5" stroke="#1c1c1c" stroke-width="1.2"/>
<line x1="256.3" y1="645.8" x2="352.0" y2="645.6" stroke="#1c1c1c" stroke-width="1.2"/>
<line x1="256.6" y1="692.6" x2="401.0" y2="691.6" stroke="#1c1c1c" stroke-width="1.2"/>
<text transform="translate(294.5 673.0) rotate(0) scale(0.73 1)" text-anchor="middle" font-size="12" font-weight="normal" fill="#1c1c1c" stroke="#1c1c1c" stroke-width="0.5">ü.d. Eingang</text>
<text transform="translate(281.5 684.0) rotate(0) scale(0.73 1)" text-anchor="middle" font-size="12" font-weight="normal" fill="#1c1c1c" stroke="#1c1c1c" stroke-width="0.5">1.2 m<tspan font-size="7.6" dy="-4.1">2</tspan></text>
<line x1="271.0" y1="595.0" x2="271.4" y2="640.5" stroke="#1c1c1c" stroke-width="1.0"/>
<path d="M271 595 C 283 594 290 598 296 602" fill="none" stroke="#1c1c1c" stroke-width="1.0" />
<path d="M312 618 C 315 626 317 633 318 640" fill="none" stroke="#1c1c1c" stroke-width="1.0" />
<rect x="319.0" y="638.6" width="20.0" height="3.0" rx="0" fill="none" stroke="#1c1c1c" stroke-width="0.9"/>
<text transform="translate(306.5 605.0) rotate(0) scale(0.73 1)" text-anchor="middle" font-size="12" font-weight="normal" fill="#1c1c1c" stroke="#1c1c1c" stroke-width="0.5">Diele</text>
<text transform="translate(309.5 617.5) rotate(0) scale(0.73 1)" text-anchor="middle" font-size="12" font-weight="normal" fill="#1c1c1c" stroke="#1c1c1c" stroke-width="0.5">4.9 m<tspan font-size="7.6" dy="-4.1">2</tspan></text>
<path d="M355 536.6 A37.5 37.5 0 0 1 392.3 574" fill="none" stroke="#1c1c1c" stroke-width="1.0" />
<path d="M347.3 574.0 L356.0 574.0 L356.0 578.5 L395.5 578.8 L451.0 631.3 L462.6 631.6 L462.6 643.2 L450.0 642.8 L401.6 691.0 L385.5 675.5" fill="none" stroke="#1c1c1c" stroke-width="1.5" stroke-linejoin="miter"/>
<path d="M347.3 574.0 L347.3 590.5 L356.0 590.5 L356.0 584.0 L392.0 584.0 L442.0 631.6 L400.5 673.8 L390.5 664.5" fill="none" stroke="#1c1c1c" stroke-width="1.5" stroke-linejoin="miter"/>
<path d="M462.6 640.0 L447.8 640.0 L402.2 686.0 L387.0 672.0" fill="none" stroke="#1c1c1c" stroke-width="1.25" stroke-linejoin="miter"/>
<line x1="437.6" y1="629.4" x2="392.5" y2="672.0" stroke="#1c1c1c" stroke-width="0.9"/>
<line x1="356.0" y1="590.2" x2="392.0" y2="590.2" stroke="#1c1c1c" stroke-width="1.0"/>
<line x1="392.0" y1="590.2" x2="392.0" y2="594.6" stroke="#1c1c1c" stroke-width="1.0"/>
<path d="M391 597 A36 36 0 0 1 356.5 626.5" fill="none" stroke="#1c1c1c" stroke-width="1.0" stroke-dasharray="14 3"/>
<path d="M348.3 627.6 L356.0 627.6 L356.0 632.0 L400.5 673.8" fill="none" stroke="#1c1c1c" stroke-width="1.5" stroke-linejoin="miter"/>
<path d="M348.3 627.6 L348.3 632.6 L340.0 632.6 L340.0 644.8 L352.0 644.8 L401.6 691.0" fill="none" stroke="#1c1c1c" stroke-width="1.5" stroke-linejoin="miter"/>
<path d="M340.0 640.4 L353.8 640.4 L402.2 686.0" fill="none" stroke="#1c1c1c" stroke-width="1.1" stroke-linejoin="miter"/>
<line x1="365.2" y1="653.2" x2="370.6" y2="647.2" stroke="#1c1c1c" stroke-width="1.1"/>
<line x1="385.6" y1="677.4" x2="391.4" y2="671.0" stroke="#1c1c1c" stroke-width="1.1"/>
<text transform="translate(369.5 607.0) rotate(0) scale(0.73 1)" text-anchor="middle" font-size="12" font-weight="normal" fill="#1c1c1c" stroke="#1c1c1c" stroke-width="0.5">Gäste-WC</text>
<text transform="translate(361.0 619.5) rotate(0) scale(0.73 1)" text-anchor="middle" font-size="12" font-weight="normal" fill="#1c1c1c" stroke="#1c1c1c" stroke-width="0.5">2.1 m<tspan font-size="7.6" dy="-4.1">2</tspan></text>
<g transform="translate(408.3 609) rotate(42)"><rect x="-9.2" y="-8.2" width="18.4" height="16.4" rx="4.5" fill="none" stroke="#1c1c1c" stroke-width="1"/><rect x="-7.3" y="-6.3" width="14.6" height="12.6" rx="3.5" fill="none" stroke="#1c1c1c" stroke-width="0.8"/><circle cx="0" cy="-2.5" r="0.7" fill="#1c1c1c"/></g>
<g transform="translate(397.5 644.5) rotate(42)"><path d="M0 -8 A8 8 0 0 0 0 8 L14 8 L14 -8 Z" fill="none" stroke="#1c1c1c" stroke-width="1"/><ellipse cx="0.5" cy="0" rx="6" ry="5.6" fill="none" stroke="#1c1c1c" stroke-width="0.9"/><path d="M14 -10 L14 10 M16.5 -10 L16.5 10" stroke="#1c1c1c" stroke-width="0.8"/></g>
<line x1="462.6" y1="636.4" x2="535.3" y2="636.4" stroke="#1c1c1c" stroke-width="1.15"/>
<line x1="462.6" y1="639.5" x2="535.3" y2="639.5" stroke="#1c1c1c" stroke-width="1.15"/>
<path d="M402.3 467.0 L514.0 466.4 L514.4 534.6 L543.3 534.4" fill="none" stroke="#1c1c1c" stroke-width="1.1" stroke-linejoin="miter"/>
<text transform="translate(467.5 504.5) rotate(0) scale(0.73 1)" text-anchor="middle" font-size="12" font-weight="normal" fill="#1c1c1c" stroke="#1c1c1c" stroke-width="0.3">Wohnküche</text>
<text transform="translate(459.0 517.0) rotate(0) scale(0.73 1)" text-anchor="middle" font-size="12" font-weight="normal" fill="#1c1c1c" stroke="#1c1c1c" stroke-width="0.3">12.5 m<tspan font-size="7.6" dy="-4.1">2</tspan></text>
<path d="M543.5 555.0 L527.0 555.0 L527.0 563.8" fill="none" stroke="#1c1c1c" stroke-width="1.0" stroke-linejoin="miter"/>
<rect x="524.0" y="563.8" width="19.7" height="37.5" rx="1.5" fill="none" stroke="#1c1c1c" stroke-width="1.1"/>
<line x1="524.0" y1="563.8" x2="543.7" y2="601.3" stroke="#1c1c1c" stroke-width="1.0"/>
<line x1="543.7" y1="563.8" x2="524.0" y2="601.3" stroke="#1c1c1c" stroke-width="1.0"/>
<path d="M527.0 601.3 L527.0 611.3 L544.0 611.3" fill="none" stroke="#1c1c1c" stroke-width="1.0" stroke-linejoin="miter"/>
<g transform="translate(465.4 572) rotate(44.2)" fill="none" stroke="#1c1c1c" stroke-width="1.15">
<rect x="-28.8" y="-18.7" width="57.6" height="37.4"/>
<rect x="-21.3" y="-30" width="18.8" height="11.3"/><line x1="-21.3" y1="-27.4" x2="-2.5" y2="-27.4" stroke-width="0.9"/>
<rect x="-21.5" y="18.7" width="19.2" height="11.3"/><line x1="-21.5" y1="27.4" x2="-2.3" y2="27.4" stroke-width="0.9"/>
<rect x="2.3" y="-30" width="18.8" height="11.3"/><line x1="2.3" y1="-27.4" x2="21.1" y2="-27.4" stroke-width="0.9"/>
<rect x="2.1" y="18.7" width="19.2" height="11.3"/><line x1="2.1" y1="27.4" x2="21.3" y2="27.4" stroke-width="0.9"/>
<rect x="-39.4" y="-9.2" width="10.6" height="18.4"/><line x1="-36.8" y1="-9.2" x2="-36.8" y2="9.2" stroke-width="0.9"/>
<rect x="28.8" y="-9.2" width="10.6" height="18.4"/><line x1="36.8" y1="-9.2" x2="36.8" y2="9.2" stroke-width="0.9"/>
</g>
<text transform="translate(317.5 339.0) rotate(0) scale(0.73 1)" text-anchor="middle" font-size="12" font-weight="normal" fill="#1c1c1c" stroke="#1c1c1c" stroke-width="0.5">Wohnen</text>
<text transform="translate(316.0 352.0) rotate(0) scale(0.73 1)" text-anchor="middle" font-size="12" font-weight="normal" fill="#1c1c1c" stroke="#1c1c1c" stroke-width="0.5">28.4 m<tspan font-size="7.6" dy="-4.1">2</tspan></text>
<path d="M247.6 272.2 L264.3 272.2 L264.6 310.0" fill="none" stroke="#1c1c1c" stroke-width="1.35" stroke-linejoin="miter"/>
<path d="M264.6 310 Q269.3 329 264.9 348" fill="none" stroke="#1c1c1c" stroke-width="1.3" />
<path d="M264.9 348.0 L265.2 387.2 L248.8 387.2" fill="none" stroke="#1c1c1c" stroke-width="1.35" stroke-linejoin="miter"/>
<line x1="247.8" y1="272.2" x2="264.6" y2="272.2" stroke="#1c1c1c" stroke-width="1.3"/>
<line x1="248.0" y1="272.2" x2="264.9" y2="310.0" stroke="#1c1c1c" stroke-width="1.15"/>
<line x1="264.5" y1="272.2" x2="248.4" y2="310.0" stroke="#1c1c1c" stroke-width="1.15"/>
<line x1="247.8" y1="310.0" x2="264.6" y2="310.0" stroke="#1c1c1c" stroke-width="1.3"/>
<line x1="248.0" y1="310.0" x2="264.9" y2="348.0" stroke="#1c1c1c" stroke-width="1.15"/>
<line x1="264.5" y1="310.0" x2="248.4" y2="348.0" stroke="#1c1c1c" stroke-width="1.15"/>
<line x1="247.8" y1="348.0" x2="264.6" y2="348.0" stroke="#1c1c1c" stroke-width="1.3"/>
<line x1="248.0" y1="348.0" x2="264.9" y2="387.2" stroke="#1c1c1c" stroke-width="1.15"/>
<line x1="264.5" y1="348.0" x2="248.4" y2="387.2" stroke="#1c1c1c" stroke-width="1.15"/>
<rect x="376.7" y="411.8" width="38.6" height="18.6" rx="2.5" fill="none" stroke="#1c1c1c" stroke-width="1.1"/>
<line x1="376.7" y1="411.8" x2="415.3" y2="430.4" stroke="#1c1c1c" stroke-width="1.0"/>
<line x1="415.3" y1="411.8" x2="376.7" y2="430.4" stroke="#1c1c1c" stroke-width="1.0"/>
<rect x="423.5" y="411.8" width="39.8" height="18.6" rx="2.5" fill="none" stroke="#1c1c1c" stroke-width="1.1"/>
<line x1="423.5" y1="411.8" x2="463.3" y2="430.4" stroke="#1c1c1c" stroke-width="1.0"/>
<line x1="463.3" y1="411.8" x2="423.5" y2="430.4" stroke="#1c1c1c" stroke-width="1.0"/>
<rect x="471.5" y="411.8" width="38.5" height="18.6" rx="2.5" fill="none" stroke="#1c1c1c" stroke-width="1.1"/>
<line x1="471.5" y1="411.8" x2="510.0" y2="430.4" stroke="#1c1c1c" stroke-width="1.0"/>
<line x1="510.0" y1="411.8" x2="471.5" y2="430.4" stroke="#1c1c1c" stroke-width="1.0"/>
<line x1="415.0" y1="414.0" x2="424.0" y2="414.0" stroke="#1c1c1c" stroke-width="0.9"/>
<line x1="462.5" y1="414.0" x2="471.0" y2="414.0" stroke="#1c1c1c" stroke-width="0.9"/>
<line x1="419.5" y1="414.0" x2="419.5" y2="430.0" stroke="#1c1c1c" stroke-width="0.8"/>
<line x1="466.7" y1="414.0" x2="466.7" y2="430.0" stroke="#1c1c1c" stroke-width="0.8"/>
<rect x="297.0" y="219.5" width="73.0" height="38.5" rx="19.2" fill="none" stroke="#1c1c1c" stroke-width="1.3"/>
<rect x="312.0" y="206.0" width="19.5" height="13.5" rx="0" fill="none" stroke="#1c1c1c" stroke-width="1.0"/>
<line x1="312.0" y1="207.4" x2="331.5" y2="207.4" stroke="#666" stroke-width="2.2"/>
<rect x="335.5" y="206.0" width="19.5" height="13.5" rx="0" fill="none" stroke="#1c1c1c" stroke-width="1.0"/>
<line x1="335.5" y1="207.4" x2="355.0" y2="207.4" stroke="#666" stroke-width="2.2"/>
<rect x="312.0" y="258.0" width="19.5" height="13.0" rx="0" fill="none" stroke="#1c1c1c" stroke-width="1.0"/>
<line x1="312.0" y1="269.6" x2="331.5" y2="269.6" stroke="#666" stroke-width="2.2"/>
<rect x="335.5" y="258.0" width="19.5" height="13.0" rx="0" fill="none" stroke="#1c1c1c" stroke-width="1.0"/>
<line x1="335.5" y1="269.6" x2="355.0" y2="269.6" stroke="#666" stroke-width="2.2"/>
<rect x="284.6" y="230.0" width="13.0" height="19.2" rx="0" fill="none" stroke="#1c1c1c" stroke-width="1.0"/>
<line x1="286.0" y1="230.0" x2="286.0" y2="249.2" stroke="#666" stroke-width="2.2"/>
<rect x="369.8" y="229.4" width="12.6" height="19.6" rx="0" fill="none" stroke="#1c1c1c" stroke-width="1.0"/>
<line x1="381.0" y1="229.4" x2="381.0" y2="249.0" stroke="#666" stroke-width="2.2"/>
<rect x="427.5" y="257.0" width="45.0" height="42.5" rx="4" fill="none" stroke="#1c1c1c" stroke-width="1.25"/>
<line x1="427.5" y1="266.5" x2="472.5" y2="266.5" stroke="#1c1c1c" stroke-width="1.1"/>
<line x1="435.3" y1="266.5" x2="435.3" y2="299.5" stroke="#1c1c1c" stroke-width="1.1"/>
<line x1="464.5" y1="266.5" x2="464.5" y2="299.5" stroke="#1c1c1c" stroke-width="1.1"/>
<rect x="365.0" y="321.0" width="44.5" height="44.0" rx="4" fill="none" stroke="#1c1c1c" stroke-width="1.25"/>
<line x1="375.0" y1="328.0" x2="409.5" y2="328.0" stroke="#1c1c1c" stroke-width="1.1"/>
<line x1="375.0" y1="357.5" x2="409.5" y2="357.5" stroke="#1c1c1c" stroke-width="1.1"/>
<line x1="375.0" y1="321.0" x2="375.0" y2="365.0" stroke="#1c1c1c" stroke-width="1.1"/>
<rect x="435.5" y="321.0" width="30.0" height="43.5" rx="1" fill="none" stroke="#1c1c1c" stroke-width="1.25"/>
<rect x="491.0" y="292.0" width="44.5" height="101.0" rx="4" fill="none" stroke="#1c1c1c" stroke-width="1.25"/>
<line x1="525.3" y1="292.0" x2="525.8" y2="393.0" stroke="#1c1c1c" stroke-width="1.1"/>
<line x1="491.0" y1="299.3" x2="525.3" y2="299.3" stroke="#1c1c1c" stroke-width="1.1"/>
<line x1="491.0" y1="385.4" x2="525.6" y2="385.4" stroke="#1c1c1c" stroke-width="1.1"/>
<line x1="493.0" y1="327.0" x2="516.5" y2="327.0" stroke="#1c1c1c" stroke-width="1.1"/>
<line x1="493.0" y1="356.1" x2="516.5" y2="356.1" stroke="#1c1c1c" stroke-width="1.1"/>
<g transform="translate(248 190) scale(0.06158)" fill="none" stroke="#1c1c1c" stroke-width="19" stroke-linecap="round" stroke-linejoin="round">
<circle cx="310" cy="125" r="24"/>
<circle cx="625" cy="175" r="24"/>
<circle cx="135" cy="400" r="27"/>
<circle cx="360" cy="620" r="26"/>
<circle cx="240" cy="155" r="13" fill="#1c1c1c" stroke="none"/>
<circle cx="330" cy="330" r="15" fill="#1c1c1c" stroke="none"/>
<circle cx="520" cy="430" r="15" fill="#1c1c1c" stroke="none"/>
<circle cx="505" cy="595" r="11" fill="#1c1c1c" stroke="none"/>
<circle cx="430" cy="595" r="8" fill="#1c1c1c" stroke="none"/>
<circle cx="465" cy="560" r="7" fill="#1c1c1c" stroke="none"/>
<circle cx="465" cy="265" r="19" fill="#777" stroke="none"/>
<path d="M240 155 L225 185"/>
<path d="M285 215 L330 213 L338 245"/>
<path d="M180 265 L230 265 L290 305 L330 330"/>
<path d="M120 300 L130 330"/>
<path d="M160 360 L230 378 L262 408 L250 432"/>
<path d="M160 480 L200 510 L250 498"/>
<path d="M400 240 L410 170 L440 105 L465 150 L480 200 L520 110 L545 95 L542 150 L520 190 L560 240 L600 270"/>
<path d="M500 320 L540 310 L520 350 L580 370 L640 390 L660 420 L620 450 L580 440 L640 500 L640 530 L570 490 L540 520 L545 580"/>
<path d="M410 360 L440 420 L430 500 L400 560 L375 598"/>
<path d="M370 420 L350 470 L320 490"/>
</g>
<path d="M505.8 259.3 L509.5 259.5 L506.5 257.4 Z" fill="#333" stroke="#333" stroke-width="0.9" stroke-linejoin="miter"/>
<path d="M510.4 248.5 L512.5 251.5 L512.3 247.8 Z" fill="#333" stroke="#333" stroke-width="0.9" stroke-linejoin="miter"/>
<path d="M518.7 244.8 L518.5 248.5 L520.6 245.5 Z" fill="#333" stroke="#333" stroke-width="0.9" stroke-linejoin="miter"/>
<path d="M525.5 251.4 L522.5 253.5 L526.2 253.3 Z" fill="#333" stroke="#333" stroke-width="0.9" stroke-linejoin="miter"/>
<path d="M527.2 259.7 L523.5 259.5 L526.5 261.6 Z" fill="#333" stroke="#333" stroke-width="0.9" stroke-linejoin="miter"/>
<path d="M519.3 266.8 L517.7 263.4 L517.4 267.1 Z" fill="#333" stroke="#333" stroke-width="0.9" stroke-linejoin="miter"/>
<path d="M510.9 266.2 L511.8 262.6 L509.1 265.2 Z" fill="#333" stroke="#333" stroke-width="0.9" stroke-linejoin="miter"/>
<path d="M512.8 255.9 L516.4 256.8 L513.8 254.1 Z" fill="#333" stroke="#333" stroke-width="0.9" stroke-linejoin="miter"/>
<path d="M520.1 255.8 L519.2 259.4 L521.9 256.8 Z" fill="#333" stroke="#333" stroke-width="0.9" stroke-linejoin="miter"/>
<circle cx="517" cy="256" r="4.2" fill="none" stroke="#666" stroke-width="0.8" stroke-dasharray="2.5 2"/>
<line x1="564.0" y1="501.0" x2="720.0" y2="500.4" stroke="#1c1c1c" stroke-width="1.2" stroke-dasharray="7.3 2.9"/>
<line x1="727.0" y1="505.0" x2="731.0" y2="776.0" stroke="#1c1c1c" stroke-width="1.2" stroke-dasharray="7.3 2.9"/>
<line x1="568.0" y1="784.0" x2="725.0" y2="783.4" stroke="#1c1c1c" stroke-width="1.2" stroke-dasharray="7.3 2.9"/>
<line x1="558.6" y1="648.0" x2="559.4" y2="777.0" stroke="#1c1c1c" stroke-width="1.2" stroke-dasharray="7.3 2.9"/>
<rect x="557.0" y="501.0" width="5.0" height="5.0" rx="1" fill="none" stroke="#1c1c1c" stroke-width="1.1"/>
<rect x="720.0" y="500.0" width="5.0" height="5.0" rx="1" fill="none" stroke="#1c1c1c" stroke-width="1.1"/>
<rect x="559.5" y="641.0" width="5.0" height="5.0" rx="1" fill="none" stroke="#1c1c1c" stroke-width="1.1"/>
<rect x="722.3" y="639.0" width="5.0" height="5.0" rx="1" fill="none" stroke="#1c1c1c" stroke-width="1.1"/>
<rect x="561.3" y="778.5" width="6.0" height="6.0" rx="1" fill="none" stroke="#1c1c1c" stroke-width="1.1"/>
<rect x="724.0" y="776.5" width="6.0" height="6.0" rx="1" fill="none" stroke="#1c1c1c" stroke-width="1.1"/>
<path d="M614.4 47 C 620 38 626 30 631.3 23.5 C 637 16 643 8 650 0" fill="none" stroke="#1c1c1c" stroke-width="1.5" />
<path d="M664 0 C 656 9 645 21 639.2 30 C 643 23 648 15 652.2 10.4 C 651.5 14 650.5 18 651 21 C 656 21.5 661 23 665.3 25.5" fill="none" stroke="#1c1c1c" stroke-width="1.8" />
<path d="M659 0 C 652 8 646 16 642 24" fill="none" stroke="#1c1c1c" stroke-width="1.0" />
<path d="M665.3 26 C 700 19.6 740 15.7 767 14.4 C 775 14.5 774 18.3 770 19 C 740 26 700 33.5 668 38.5 C 660 38.5 659 31 665.3 26" fill="none" stroke="#1c1c1c" stroke-width="1.7" />
<path d="M735.8 9.1 C 745 5 752 2.5 759.3 0" fill="none" stroke="#1c1c1c" stroke-width="3.0" />
<path d="M750 26 C 757 25 764 24.5 769.7 24.8 C 776 26 781 28 781.5 31.3 C 779 38 762 45 748.8 49.6" fill="none" stroke="#1c1c1c" stroke-width="1.8" />
<path d="M775 41.8 L 778.9 37.9" fill="none" stroke="#1c1c1c" stroke-width="1.6" />
<path d="M812 26 C 808 30 806 33 805 36.6 C 804 40 803.6 44 803.7 48.3" fill="none" stroke="#1c1c1c" stroke-width="1.8" />
</g>
<defs><filter id="soft" x="0" y="0" width="100%" height="100%"><feGaussianBlur stdDeviation="0.35"/></filter></defs>
</svg>
</body></html>
